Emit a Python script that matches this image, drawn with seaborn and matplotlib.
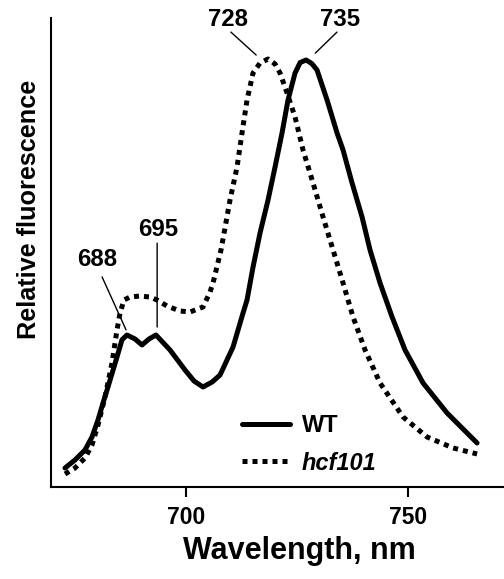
import numpy as np
import pandas as pd
import matplotlib
matplotlib.use('Agg')
import matplotlib.pyplot as plt
import seaborn as sns

# spectra (wavelength in nm, relative units 0-100)
wt_nm = [672.75, 675.0, 677.25, 678.83, 680.18, 681.31, 682.43, 684.46, 685.59,
         686.71, 688.51, 690.09, 691.67, 693.24, 696.40, 699.77, 701.8, 703.83,
         705.9, 707.66, 710.59, 712.84, 713.74, 715.09, 716.67, 718.47, 720.05,
         721.62, 722.97, 724.55, 725.7, 727.03, 728.3, 729.5, 731.76, 734.01,
         735.36, 737.39, 739.64, 741.44, 743.69, 746.4, 749.32, 753.38, 758.78,
         765.54]
wt_val = [4.05, 5.76, 7.89, 10.66, 14.29, 17.91, 21.32, 27.72, 31.4,
          32.41, 31.56, 30.28, 31.56, 32.41, 29.21, 24.95, 22.6, 21.32,
          22.4, 23.88, 29.85, 37.1, 39.87, 46.9, 54.16, 61.19, 68.23,
          75.48, 82.52, 88.27, 90.5, 91.04, 90.3, 88.91, 82.52, 75.48,
          71.86, 64.82, 57.57, 50.53, 43.5, 36.25, 29.21, 22.17, 15.78,
          9.38]

hcf_nm = [672.75, 675.0, 677.25, 678.83, 680.18, 681.76, 683.33, 684.46, 685.14,
          686.04, 687.39, 689.64, 691.89, 693.47, 695.72, 698.65, 700.9, 703.83,
          705.41, 706.08, 707.88, 709.91, 711.49, 712.61, 713.74, 715.09, 716.67,
          718.47, 720.05, 721.17, 722.75, 724.55, 726.35, 728.6, 730.86, 733.11,
          735.36, 737.61, 740.32, 743.69, 748.87, 754.28, 760.14, 765.54]
hcf_val = [2.77, 4.05, 6.18, 8.96, 13.22, 19.19, 26.44, 33.48, 37.1,
           39.87, 40.51, 40.72, 40.51, 39.87, 38.59, 37.53, 37.31, 38.38,
           41.58, 43.5, 50.53, 61.19, 68.23, 75.48, 82.52, 88.27, 90.4,
           91.26, 90.19, 88.27, 84.01, 78.89, 71.86, 64.82, 57.57, 50.53,
           43.5, 36.25, 29.21, 22.17, 14.93, 10.66, 8.32, 7.04]

lines = ['WT', 'hcf101']
xticks = [700, 750]

# peak labels: text, text position, leader line start, leader line end
peak_labels = ['688', '695', '728', '735']
label_pos = [(680.0, 48.6), (693.7, 54.8), (709.5, 99.6), (734.7, 99.6)]
leader_from = [(681.1, 44.8), (693.5, 52.0), (710.1, 97.0), (734.0, 97.0)]
leader_to = [(686.5, 33.5), (693.5, 34.1), (715.8, 92.1), (729.1, 92.5)]

df = pd.concat([
    pd.DataFrame({'nm': wt_nm, 'fl': wt_val, 'line': 'WT'}),
    pd.DataFrame({'nm': hcf_nm, 'fl': hcf_val, 'line': 'hcf101'}),
])

sns.set_theme(style='ticks')
plt.rcParams['font.family'] = ['Liberation Sans', 'DejaVu Sans']
plt.rcParams['font.weight'] = 'bold'
plt.rcParams['text.color'] = 'black'
plt.rcParams['axes.labelcolor'] = 'black'
plt.rcParams['lines.solid_joinstyle'] = 'round'
plt.rcParams['lines.dash_joinstyle'] = 'round'

fig = plt.figure(figsize=(5.04, 5.79), dpi=100)
ax = fig.add_axes([51/504, 92/579, 453/504, 469/579])

sns.lineplot(data=df, x='nm', y='fl', style='line', style_order=lines,
             dashes={'WT': '', 'hcf101': (1, 1)}, color='black',
             linewidth=3.6, estimator=None, sort=False, ax=ax)

ax.set_xlim(669.6, 771.6)
ax.set_ylim(0, 100)
ax.set_xticks(xticks)
ax.set_xticklabels([str(t) for t in xticks])
ax.set_yticks([])
ax.tick_params(axis='x', direction='out', length=7, width=1.5, pad=7,
               labelsize=16.5, colors='black')
for s in ['left', 'bottom']:
    ax.spines[s].set_linewidth(1.5)
    ax.spines[s].set_color('black')
sns.despine(ax=ax)

ax.set_xlabel('Wavelength, nm', fontsize=22, fontweight='bold')
ax.set_ylabel('Relative fluorescence', fontsize=18.2, fontweight='bold')
ax.xaxis.set_label_coords(0.549, -0.104)
ax.yaxis.set_label_coords(-0.022, 0.592)

for lab, pos, a, b in zip(peak_labels, label_pos, leader_from, leader_to):
    ax.text(pos[0], pos[1], lab, ha='center', va='center', fontsize=17.3,
            fontweight='bold', clip_on=False)
    ax.annotate('', xy=b, xytext=a,
                arrowprops=dict(arrowstyle='-', lw=1.0, color='black',
                                shrinkA=0, shrinkB=0))

handles, labels = ax.get_legend_handles_labels()
leg = ax.legend(handles, labels, loc='upper left',
                bbox_to_anchor=(0.395, 0.18), frameon=False, borderpad=0,
                fontsize=17, handlelength=2.05, handletextpad=0.5,
                labelspacing=0.6)
for h in leg.get_lines():
    h.set_linewidth(3.6)
    h.set_color('black')
leg.get_texts()[1].set_fontstyle('italic')

fig.savefig('out.png', dpi=100)
